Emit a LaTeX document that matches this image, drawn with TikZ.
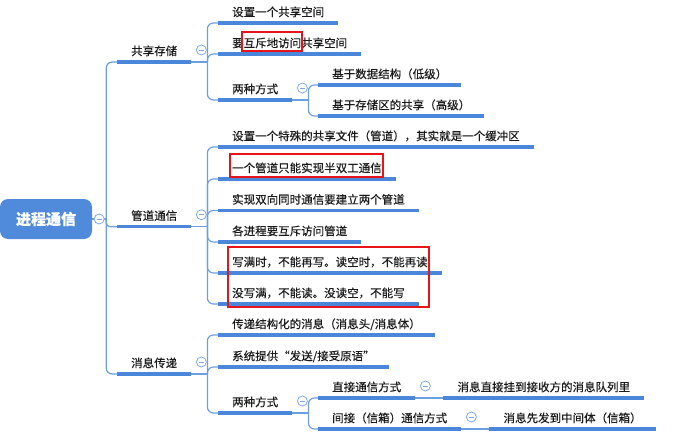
\documentclass[tikz,border=0pt]{standalone}
\usepackage{fontspec}
\setmainfont{Noto Sans CJK SC}[FakeBold=0.35]
\usetikzlibrary{positioning,calc}

\definecolor{lineblue}{HTML}{4A86DA}
\definecolor{connblue}{HTML}{6A9FE3}
\definecolor{foldblue}{HTML}{7EA9E6}
\definecolor{rootblue}{HTML}{4F8ADB}
\definecolor{inkgray}{HTML}{1A1A1A}
\definecolor{markred}{HTML}{E8141A}

\begin{document}
\begin{tikzpicture}[
  x=1pt, y=-1pt,
  topic/.style={anchor=south west, inner xsep=14pt, inner ysep=6.5pt, text height=9pt, text depth=0pt, text=inkgray, font=\fontsize{11.5}{13}\selectfont},
  rootbox/.style={rectangle, rounded corners=8pt, fill=rootblue, minimum width=92pt, minimum height=40pt, inner sep=0pt, text=white, font=\fontsize{15}{18}\selectfont\bfseries},
  fold/.style={circle, draw=foldblue, fill=white, line width=0.8pt, minimum size=10pt, inner sep=0pt,
    path picture={\draw[foldblue, line width=0.8pt] ($(path picture bounding box.center)+(-2.6,0)$) -- ++(5.2,0);}},
  uline/.style={draw=lineblue, line width=3.2pt},
  conn/.style={draw=connblue, line width=1.2pt, rounded corners=6pt},
  hilite/.style={draw=markred, line width=1.5pt}
]
\useasboundingbox (0,0) rectangle (699,433);

% root
\node[rootbox] (proc) at (46,219) {进程通信};
\coordinate (proc-j) at ($(proc.east)+(14,0)$);

% first level
\node[topic] (shm) at (117,62) {共享存储};
\node[topic] (pipe) at (117,226.7) {管道通信};
\node[topic] (msg) at (117,374) {消息传递};

% shared storage
\node[topic] (shm1) at (218,23) {设置一个共享空间};
\node[topic] (shm2) at (218,54) {要互斥地访问共享空间};
\node[topic] (shm3) at (218,100) {两种方式};
\node[topic] (shm31) at (318,85) {基于数据结构（低级）};
\node[topic] (shm32) at (318,116) {基于存储区的共享（高级）};

% pipes
\node[topic] (pipe1) at (218,147) {设置一个特殊的共享文件（管道），其实就是一个缓冲区};
\node[topic] (pipe2) at (218,179) {一个管道只能实现半双工通信};
\node[topic] (pipe3) at (218,210.5) {实现双向同时通信要建立两个管道};
\node[topic] (pipe4) at (218,242) {各进程要互斥访问管道};
\node[topic] (pipe5) at (218,273) {写满时，不能再写。读空时，不能再读};
\node[topic] (pipe6) at (218,304) {没写满，不能读。没读空，不能写};

% message passing
\node[topic] (msg1) at (218,335) {传递结构化的消息（消息头/消息体）};
\node[topic] (msg2) at (218,367) {系统提供“发送/接受原语”};
\node[topic] (msg3) at (218,413) {两种方式};
\node[topic] (msg31) at (318,398) {直接通信方式};
\node[topic] (msg32) at (318,429) {间接（信箱）通信方式};
\node[topic, right=28pt of msg31.south east, anchor=south west] (msg311) {消息直接挂到接收方的消息队列里};
\node[topic, right=28pt of msg32.south east, anchor=south west] (msg321) {消息先发到中间体（信箱）};

% underlines
\foreach \n in {shm,pipe,msg,shm1,shm2,shm3,shm31,shm32,pipe1,pipe2,pipe3,pipe4,pipe5,pipe6,msg1,msg2,msg3,msg31,msg32,msg311,msg321}
  \draw[uline] (\n.south west) -- (\n.south east);

% junctions
\foreach \p in {shm,pipe,msg,shm3,msg3}
  \coordinate (\p-j) at ($(\p.south east)+(16,0)$);

% connectors
\draw[conn] (proc.east) -- (proc-j);
\draw[conn] (proc-j) |- (shm.south west);
\draw[conn, rounded corners=4pt] (proc-j) |- (pipe.south west);
\draw[conn] (proc-j) |- (msg.south west);
\foreach \p/\kids in {shm/{shm1,shm2,shm3}, shm3/{shm31,shm32}, pipe/{pipe1,pipe2,pipe3,pipe4,pipe5,pipe6}, msg/{msg1,msg2,msg3}, msg3/{msg31,msg32}} {
  \draw[conn] (\p.south east) -- (\p-j);
  \foreach \c in \kids
    \draw[conn] (\p-j) |- (\c.south west);
}
\draw[conn] (msg31.south east) -- (msg311.south west);
\draw[conn] (msg32.south east) -- (msg321.south west);

% fold markers
\node[fold] (proc-f) at ($(proc.east)+(7,0)$) {};
\foreach \p in {shm,pipe,msg,shm3,msg3,msg31,msg32}
  \node[fold] (\p-f) at ($(\p.south east)+(10,-12)$) {};

% highlights
\draw[hilite] (242,32) rectangle (302,51);
\draw[hilite] (230,154) rectangle (383,177);
\draw[hilite] (228,247) rectangle (429,307);
\end{tikzpicture}
\end{document}
